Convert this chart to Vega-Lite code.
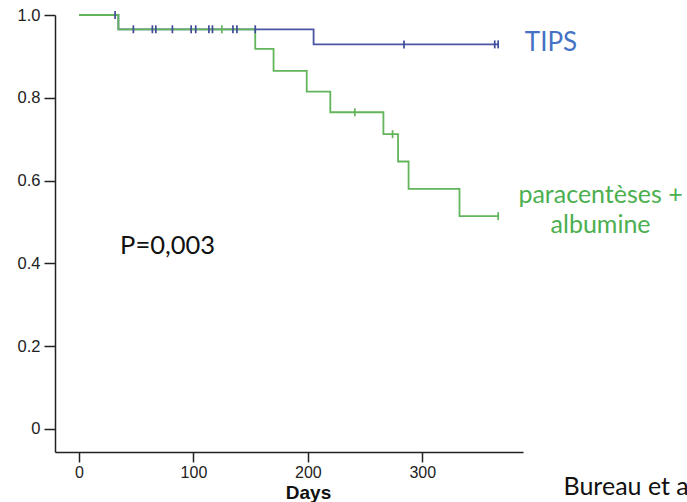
{
  "$schema": "https://vega.github.io/schema/vega-lite/v6.json",
  "width": 468,
  "height": 437,
  "autosize": {"type": "none"},
  "padding": {"left": 55, "top": 15, "right": 164, "bottom": 50},
  "background": "white",
  "config": {"view": {"stroke": null}, "font": "Liberation Sans"},
  "datasets": {
    "curves": [
      {"group": "TIPS", "t": 0, "s": 1},
      {"group": "TIPS", "t": 34.4, "s": 0.9655},
      {"group": "TIPS", "t": 205, "s": 0.929},
      {"group": "TIPS", "t": 367, "s": 0.929},
      {"group": "paracentèses + albumine", "t": 0, "s": 1},
      {"group": "paracentèses + albumine", "t": 34.4, "s": 0.9655},
      {"group": "paracentèses + albumine", "t": 154, "s": 0.918},
      {"group": "paracentèses + albumine", "t": 170, "s": 0.865},
      {"group": "paracentèses + albumine", "t": 199, "s": 0.815},
      {"group": "paracentèses + albumine", "t": 219.6, "s": 0.765},
      {"group": "paracentèses + albumine", "t": 266, "s": 0.712},
      {"group": "paracentèses + albumine", "t": 278.8, "s": 0.646},
      {"group": "paracentèses + albumine", "t": 288, "s": 0.58},
      {"group": "paracentèses + albumine", "t": 332.5, "s": 0.514},
      {"group": "paracentèses + albumine", "t": 367, "s": 0.514}
    ],
    "censors": [
      {"group": "TIPS", "t": 31.5, "s": 1},
      {"group": "TIPS", "t": 47.5, "s": 0.9655},
      {"group": "TIPS", "t": 64.1, "s": 0.9655},
      {"group": "TIPS", "t": 67.1, "s": 0.9655},
      {"group": "TIPS", "t": 81.6, "s": 0.9655},
      {"group": "TIPS", "t": 98, "s": 0.9655},
      {"group": "TIPS", "t": 102, "s": 0.9655},
      {"group": "TIPS", "t": 113.5, "s": 0.9655},
      {"group": "TIPS", "t": 116.6, "s": 0.9655},
      {"group": "TIPS", "t": 134.5, "s": 0.9655},
      {"group": "TIPS", "t": 138, "s": 0.9655},
      {"group": "TIPS", "t": 154, "s": 0.9655},
      {"group": "TIPS", "t": 284, "s": 0.929},
      {"group": "TIPS", "t": 363.3, "s": 0.929},
      {"group": "TIPS", "t": 366.3, "s": 0.929},
      {"group": "paracentèses + albumine", "t": 124.8, "s": 0.9655},
      {"group": "paracentèses + albumine", "t": 241, "s": 0.765},
      {"group": "paracentèses + albumine", "t": 274, "s": 0.712},
      {"group": "paracentèses + albumine", "t": 366.3, "s": 0.514}
    ],
    "labels": [
      {"label": "TIPS", "t": 412.5, "s": 0.913},
      {"label": "paracentèses +", "t": 455.8, "s": 0.5466},
      {"label": "albumine", "t": 455.8, "s": 0.4734}
    ],
    "notes": [
      {"label": "P=0,003", "t": 35.9, "s": 0.422},
      {"label": "Bureau et al.", "t": 423.4, "s": -0.159}
    ]
  },
  "encoding": {
    "x": {
      "field": "t",
      "type": "quantitative",
      "scale": {"domain": [-21, 388], "nice": false, "zero": false},
      "axis": {
        "values": [0, 100, 200, 300],
        "title": "Days",
        "grid": false,
        "domainColor": "#222",
        "domainWidth": 1.5,
        "tickColor": "#222",
        "tickWidth": 1.5,
        "tickSize": 10,
        "labelFont": "Liberation Sans",
        "labelFontSize": 16,
        "labelColor": "#222",
        "labelPadding": 2,
        "titleFont": "Liberation Sans",
        "titleFontSize": 19,
        "titleFontWeight": "bold",
        "titleColor": "#111",
        "titleX": 253,
        "titleY": 46,
        "titleBaseline": "alphabetic"
      }
    },
    "y": {
      "field": "s",
      "type": "quantitative",
      "scale": {"domain": [-0.056, 1], "nice": false, "zero": false},
      "axis": {
        "values": [0, 0.2, 0.4, 0.6, 0.8, 1],
        "labelExpr": "datum.value == 0 ? '0' : format(datum.value, '.1f')",
        "title": null,
        "grid": false,
        "domainColor": "#222",
        "domainWidth": 1.5,
        "tickColor": "#222",
        "tickWidth": 1.5,
        "tickSize": 11,
        "labelFont": "Liberation Sans",
        "labelFontSize": 16.5,
        "labelColor": "#222",
        "labelPadding": 4
      }
    }
  },
  "layer": [
    {
      "data": {"name": "curves"},
      "transform": [{"filter": "datum.group == 'TIPS'"}],
      "mark": {"type": "line", "interpolate": "step-after", "strokeWidth": 1.8, "color": "#4a55a5"}
    },
    {
      "data": {"name": "curves"},
      "transform": [{"filter": "datum.group != 'TIPS'"}],
      "mark": {"type": "line", "interpolate": "step-after", "strokeWidth": 1.8, "color": "#62b55a"}
    },
    {
      "data": {"name": "censors"},
      "transform": [{"filter": "datum.group == 'TIPS'"}],
      "mark": {"type": "point", "shape": "M0,-1V1", "size": 64, "strokeWidth": 1.7, "filled": false, "opacity": 1, "color": "#3f4b98"}
    },
    {
      "data": {"name": "censors"},
      "transform": [{"filter": "datum.group != 'TIPS'"}],
      "mark": {"type": "point", "shape": "M0,-1V1", "size": 64, "strokeWidth": 1.7, "filled": false, "opacity": 1, "color": "#62b55a"}
    },
    {
      "data": {"name": "labels"},
      "transform": [{"filter": "datum.label == 'TIPS'"}],
      "mark": {"type": "text", "font": "Lato", "align": "center", "baseline": "alphabetic", "fontSize": 26, "color": "#4472c4"},
      "encoding": {"text": {"field": "label"}}
    },
    {
      "data": {"name": "labels"},
      "transform": [{"filter": "datum.label != 'TIPS'"}],
      "mark": {"type": "text", "font": "Lato", "align": "center", "baseline": "alphabetic", "fontSize": 25, "color": "#4caf50"},
      "encoding": {"text": {"field": "label"}}
    },
    {
      "data": {"name": "notes"},
      "transform": [{"filter": "datum.label == 'P=0,003'"}],
      "mark": {"type": "text", "font": "Lato", "align": "left", "baseline": "alphabetic", "color": "#111", "fontSize": 25.5},
      "encoding": {"text": {"field": "label"}}
    },
    {
      "data": {"name": "notes"},
      "transform": [{"filter": "datum.label != 'P=0,003'"}],
      "mark": {"type": "text", "font": "Lato", "align": "left", "baseline": "alphabetic", "color": "#111", "fontSize": 25},
      "encoding": {"text": {"field": "label"}}
    }
  ]
}
